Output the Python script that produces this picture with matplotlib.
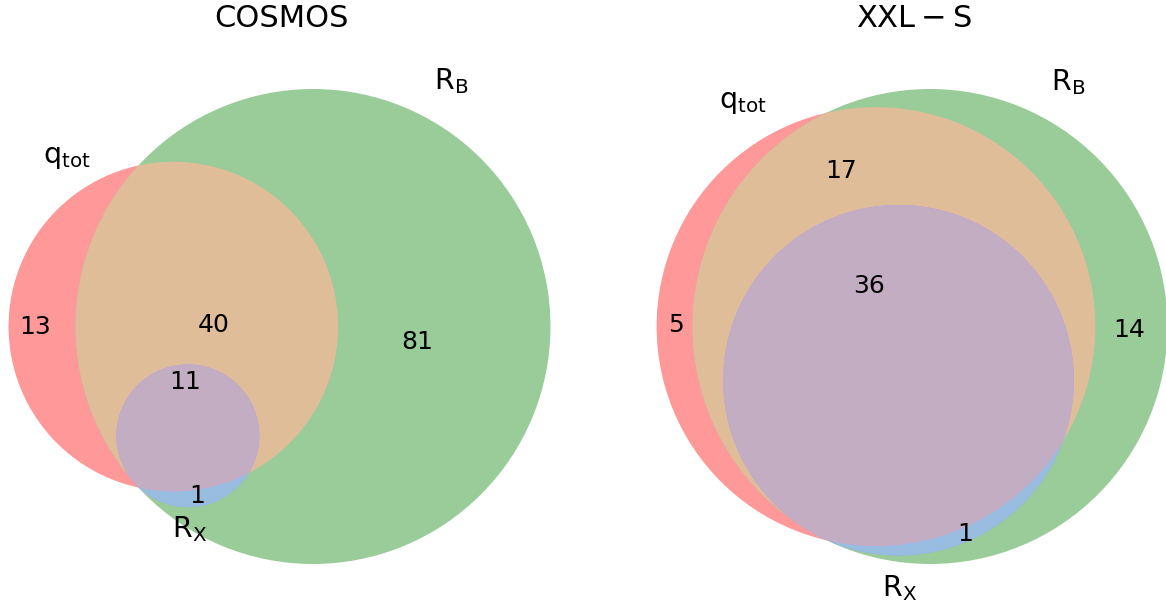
import numpy as np
import matplotlib
matplotlib.use("Agg")
import matplotlib.pyplot as plt
from matplotlib.patches import Circle, Polygon

W, H = 1166, 604

# ---------------- data ----------------
panel_titles = ["COSMOS", r"$\mathrm{XXL-S}$"]
set_labels = [r"$\mathrm{q_{tot}}$", r"$\mathrm{R_B}$", r"$\mathrm{R_X}$"]
# region counts in order (Abc, aBc, ABc, abC, AbC, aBC, ABC); A=q_tot, B=R_B, C=R_X
cosmos_regions = [13, 81, 40, 0, 0, 1, 11]
xxls_regions = [5, 14, 17, 0, 0, 1, 36]
region_ids = ["100", "010", "110", "001", "101", "011", "111"]

# ---------------- layout (pixels, top-left origin) ----------------
panels = [
    dict(regions=cosmos_regions, title=panel_titles[0], title_xy=(282, 18.5),
         anchorB=(313, 326.5), rB_px=237.5,
         label_xy={"100": (35, 327), "010": (417, 342), "110": (214, 325),
                   "011": (197, 496), "111": (185, 382)},
         setlab=[(91, 163, "right", "baseline"), (434, 89, "left", "baseline"),
                 (190, 529, "center", "center")]),
    dict(regions=xxls_regions, title=panel_titles[1], title_xy=(914, 18.5),
         anchorB=(930, 326.5), rB_px=237.5,
         label_xy={"100": (676, 325), "010": (1129, 330), "110": (841, 171),
                   "011": (965, 534), "111": (869, 286)},
         setlab=[(767, 108, "right", "baseline"), (1051, 90, "left", "baseline"),
                 (900, 588, "center", "center")]),
]


def circle_intersection_area(R, r, d):
    if d >= R + r:
        return 0.0
    if d <= abs(R - r):
        return np.pi * min(R, r) ** 2
    x1 = (d * d + r * r - R * R) / (2 * d * r)
    x2 = (d * d + R * R - r * r) / (2 * d * R)
    x3 = (-d + r + R) * (d + r - R) * (d - r + R) * (d + r + R)
    return (r * r * np.arccos(np.clip(x1, -1, 1)) + R * R * np.arccos(np.clip(x2, -1, 1))
            - 0.5 * np.sqrt(abs(x3)))


def distance_for_area(r, R, a):
    lo, hi = abs(R - r), R + r
    for _ in range(200):
        mid = 0.5 * (lo + hi)
        if circle_intersection_area(R, r, mid) > a:
            lo = mid
        else:
            hi = mid
    return 0.5 * (lo + hi)


def venn3_layout(regions):
    areas = np.array(regions, float)
    areas[areas < 1e-6] = 1e-6
    areas = areas / areas.sum()
    A_a = areas[0] + areas[2] + areas[4] + areas[6]
    A_b = areas[1] + areas[2] + areas[5] + areas[6]
    A_c = areas[3] + areas[4] + areas[5] + areas[6]
    A_ab = areas[2] + areas[6]
    A_bc = areas[5] + areas[6]
    A_ac = areas[4] + areas[6]
    radii = np.sqrt(np.array([A_a, A_b, A_c]) / np.pi)
    dists = [distance_for_area(radii[0], radii[1], A_ab),
             distance_for_area(radii[1], radii[2], A_bc),
             distance_for_area(radii[0], radii[2], A_ac)]
    for i in range(3):
        j, k = (i + 1) % 3, (i + 2) % 3
        if dists[i] > dists[j] + dists[k]:
            a_, b_ = (j, k) if dists[j] < dists[k] else (k, j)
            dists[i] = dists[b_] + dists[a_] * 0.8
    d_ab, d_bc, d_ac = dists
    cx = (d_ac ** 2 - d_bc ** 2 + d_ab ** 2) / (2 * d_ab)
    cy = -np.sqrt(max(d_ac ** 2 - cx ** 2, 0.0))
    centers = np.array([[0.0, 0.0], [d_ab, 0.0], [cx, cy]])
    w = radii ** 2
    centers -= (centers * w[:, None]).sum(0) / w.sum()
    return centers, radii


def lens_polygon(c1, r1, c2, r2, n=1440):
    t = np.linspace(0, 2 * np.pi, n, endpoint=False)
    p1 = np.c_[c1[0] + r1 * np.cos(t), c1[1] + r1 * np.sin(t)]
    p2 = np.c_[c2[0] + r2 * np.cos(t), c2[1] + r2 * np.sin(t)]
    in1 = p1[np.hypot(p1[:, 0] - c2[0], p1[:, 1] - c2[1]) <= r2]
    in2 = p2[np.hypot(p2[:, 0] - c1[0], p2[:, 1] - c1[1]) <= r1]
    pts = np.vstack([in1, in2])
    m = pts.mean(0)
    ang = np.arctan2(pts[:, 1] - m[1], pts[:, 0] - m[0])
    return pts[np.argsort(ang)]


def blend(c, alpha=0.4):
    c = np.minimum(np.array(c, float), 1.0)
    return tuple(1 - alpha * (1 - c))


r_ = np.array([1.0, 0.0, 0.0])
g_ = np.array([0.0, 0.5, 0.0])
b_ = np.array([0.0, 0.0, 1.0])
col = {
    "100": blend(r_), "010": blend(g_), "001": blend(b_),
    "110": blend(0.7 * (r_ + g_)), "011": blend(0.7 * (g_ + b_)),
    "101": blend(0.7 * (r_ + b_)), "111": blend(0.4 * (r_ + g_ + b_)),
}

fig = plt.figure(figsize=(W / 100, H / 100), dpi=100)


def fx(x, y):
    return x / W, 1 - y / H


for pn in panels:
    centers, radii = venn3_layout(pn["regions"])
    s = pn["rB_px"] / radii[1]
    px0, py0 = pn["anchorB"]
    xb, yb = centers[1]
    ax = fig.add_axes([0, 0, 1, 1])
    ax.set_xlim(xb - px0 / s, xb + (W - px0) / s)
    ax.set_ylim(yb - (H - py0) / s, yb + py0 / s)
    ax.set_axis_off()
    ax.patch.set_visible(False)

    def circ(i, color, clip=None, z=1):
        c = Circle(centers[i], radii[i], facecolor=color, edgecolor="none", zorder=z)
        ax.add_patch(c)
        if clip is not None:
            c.set_clip_path(clip)
        return c

    clipA = Circle(centers[0], radii[0], transform=ax.transData)
    clipB = Circle(centers[1], radii[1], transform=ax.transData)
    circ(0, col["100"], z=1)
    circ(1, col["010"], z=2)
    circ(1, col["110"], clipA, z=3)
    circ(2, col["001"], z=4)
    circ(2, col["011"], clipB, z=5)
    circ(2, col["101"], clipA, z=6)
    lens = Polygon(lens_polygon(centers[0], radii[0], centers[1], radii[1]),
                   closed=True, transform=ax.transData)
    circ(2, col["111"], lens, z=7)

    counts = dict(zip(region_ids, pn["regions"]))
    for rid, (x, y) in pn["label_xy"].items():
        fig.text(*fx(x, y), str(counts[rid]), ha="center", va="center",
                 fontsize=18, color="black", zorder=10)
    for lab, (x, y, ha, va) in zip(set_labels, pn["setlab"]):
        fig.text(*fx(x, y), lab, ha=ha, va=va, fontsize=20.5, color="black", zorder=10)
    fig.text(*fx(*pn["title_xy"]), pn["title"], ha="center", va="center",
             fontsize=22, color="black")

fig.savefig("out.png", dpi=100)
